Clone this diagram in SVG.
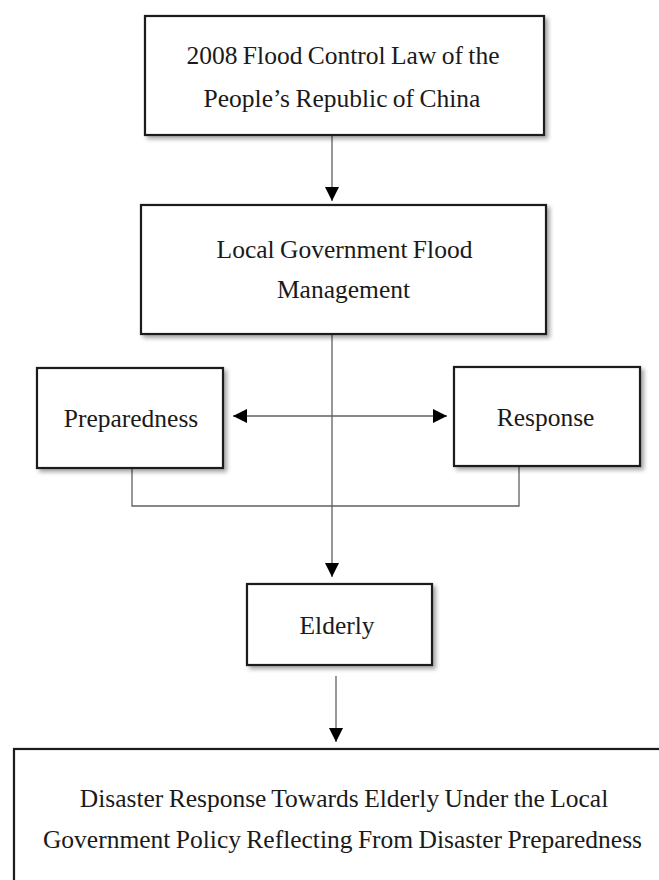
<svg xmlns="http://www.w3.org/2000/svg" width="659" height="880" viewBox="0 0 659 880">
  <style>
    .box { fill: #ffffff; stroke: #1e1e1e; stroke-width: 2.2; filter: url(#shadow); }
    .label { font-family: "Liberation Serif", "Times New Roman", serif; font-size: 25.5px; fill: #1a1a1a; text-anchor: middle; word-spacing: -1px; }
    .link { fill: none; stroke: #606060; stroke-width: 1.3; }
  </style>
  <defs>
    <filter id="shadow" x="-10%" y="-10%" width="125%" height="130%">
      <feDropShadow dx="3" dy="3" stdDeviation="2" flood-color="#000000" flood-opacity="0.35"/>
    </filter>
    <marker id="arrow" viewBox="0 0 14 14" refX="14" refY="7" markerWidth="14" markerHeight="14" markerUnits="userSpaceOnUse" orient="auto-start-reverse">
      <path d="M0,0 L14,7 L0,14 Z" fill="#000000"/>
    </marker>
  </defs>

  <!-- connectors -->
  <g id="connectors">
    <line class="link" x1="332" y1="135" x2="332" y2="201" marker-end="url(#arrow)"/>
    <line class="link" x1="332" y1="334" x2="332" y2="577" marker-end="url(#arrow)"/>
    <line class="link" x1="233" y1="416" x2="447" y2="416" marker-start="url(#arrow)" marker-end="url(#arrow)"/>
    <polyline class="link" points="132,468 132,506 519,506 519,466"/>
    <line class="link" x1="336" y1="676" x2="336" y2="742" marker-end="url(#arrow)"/>
  </g>

  <g id="flood-control-law">
    <rect class="box" x="145" y="16" width="399" height="119"/>
    <text class="label" x="343" y="64">2008 Flood Control Law of the</text>
    <text class="label" x="342" y="107">People’s Republic of China</text>
  </g>

  <g id="local-government">
    <rect class="box" x="141" y="205" width="405" height="129"/>
    <text class="label" x="344.5" y="258">Local Government Flood</text>
    <text class="label" x="343.5" y="298">Management</text>
  </g>

  <g id="preparedness">
    <rect class="box" x="37" y="368" width="186" height="100"/>
    <text class="label" x="131" y="427">Preparedness</text>
  </g>

  <g id="response">
    <rect class="box" x="454" y="367" width="186" height="99"/>
    <text class="label" x="545.5" y="426">Response</text>
  </g>

  <g id="elderly">
    <rect class="box" x="247" y="584" width="185" height="81"/>
    <text class="label" x="337" y="634">Elderly</text>
  </g>

  <g id="disaster-response">
    <rect class="box" x="14" y="749" width="660" height="150"/>
    <text class="label" x="344" y="807">Disaster Response Towards Elderly Under the Local</text>
    <text class="label" x="342.5" y="848">Government Policy Reflecting From Disaster Preparedness</text>
  </g>
</svg>
